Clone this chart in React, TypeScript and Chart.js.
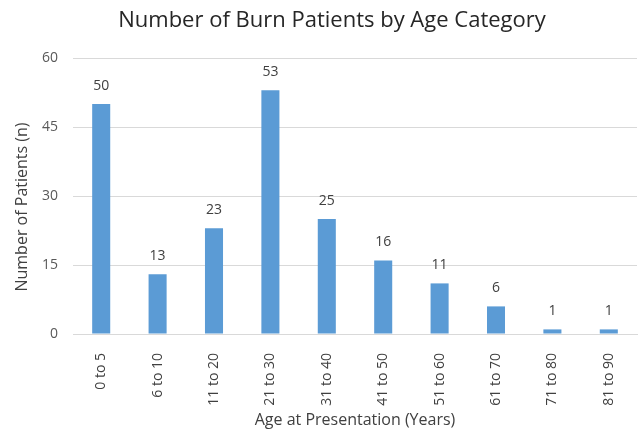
import React, { useEffect, useRef } from "react";
import { Chart, registerables } from "chart.js";

Chart.register(...registerables);

const categories = ["0 to 5", "6 to 10", "11 to 20", "21 to 30", "31 to 40", "41 to 50", "51 to 60", "61 to 70", "71 to 80", "81 to 90"];
const patients = [50, 13, 23, 53, 25, 16, 11, 6, 1, 1];
const yTicks = [0, 15, 30, 45, 60];
const chartTitle = "Number of Burn Patients by Age Category";
const yTitle = "Number of Patients (n)";
const xTitle = "Age at Presentation (Years)";

const FONT = "'Open Sans', 'Liberation Sans', sans-serif";

const valueLabels = {
  id: "valueLabels",
  afterDatasetsDraw(chart: any) {
    const ctx = chart.ctx;
    const meta = chart.getDatasetMeta(0);
    ctx.save();
    ctx.fillStyle = "#404040";
    ctx.font = `14px ${FONT}`;
    ctx.textAlign = "center";
    ctx.textBaseline = "alphabetic";
    meta.data.forEach((bar: any, i: number) => {
      ctx.fillText(String(patients[i]), bar.x, bar.y - 14);
    });
    ctx.restore();
  },
};

const titles = {
  id: "titles",
  afterDraw(chart: any) {
    const ctx = chart.ctx;
    ctx.save();
    ctx.fillStyle = "#262626";
    ctx.font = `22px ${FONT}`;
    ctx.textAlign = "center";
    ctx.textBaseline = "alphabetic";
    ctx.fillText(chartTitle, 332, 27);
    ctx.fillStyle = "#404040";
    ctx.font = `16px ${FONT}`;
    ctx.translate(22, 207);
    ctx.rotate(-Math.PI / 2);
    ctx.textBaseline = "middle";
    ctx.fillText(yTitle, 0, 0);
    ctx.restore();
  },
};

export default function App() {
  const ref = useRef<HTMLCanvasElement>(null);
  useEffect(() => {
    document.body.style.margin = "0";
    const chart = new Chart(ref.current!, {
      type: "bar",
      data: {
        labels: categories,
        datasets: [
          {
            data: patients,
            backgroundColor: "#5B9BD5",
            borderWidth: 0,
            barPercentage: 0.64,
            categoryPercentage: 0.5,
          },
        ],
      },
      options: {
        animation: false,
        responsive: false,
        devicePixelRatio: 1,
        layout: { padding: { left: 0, right: 4, top: 58, bottom: 0 } },
        plugins: {
          legend: { display: false },
          tooltip: { enabled: false },
          title: { display: false },
        },
        scales: {
          y: {
            min: 0,
            max: 60,
            afterBuildTicks: (s: any) => {
              s.ticks = yTicks.map((v) => ({ value: v }));
            },
            afterFit: (s: any) => {
              s.width = 73;
            },
            grid: { color: "#d9d9d9", lineWidth: 1, drawTicks: false },
            border: { display: false },
            ticks: { color: "#595959", font: { family: FONT, size: 14 }, padding: 15 },
          },
          x: {
            afterFit: (s: any) => {
              s.height = 100;
            },
            grid: { display: false },
            border: { display: true, color: "#d9d9d9", width: 1 },
            ticks: {
              color: "#404040",
              font: { family: FONT, size: 14 },
              minRotation: 90,
              maxRotation: 90,
              padding: 11,
              autoSkip: false,
            },
            title: {
              display: true,
              text: xTitle,
              color: "#404040",
              font: { family: FONT, size: 16 },
              padding: { top: 0, bottom: 4 },
            },
          },
        },
      },
      plugins: [valueLabels, titles],
    });
    return () => chart.destroy();
  }, []);
  return <canvas ref={ref} width={641} height={434} style={{ display: "block" }} />;
}
